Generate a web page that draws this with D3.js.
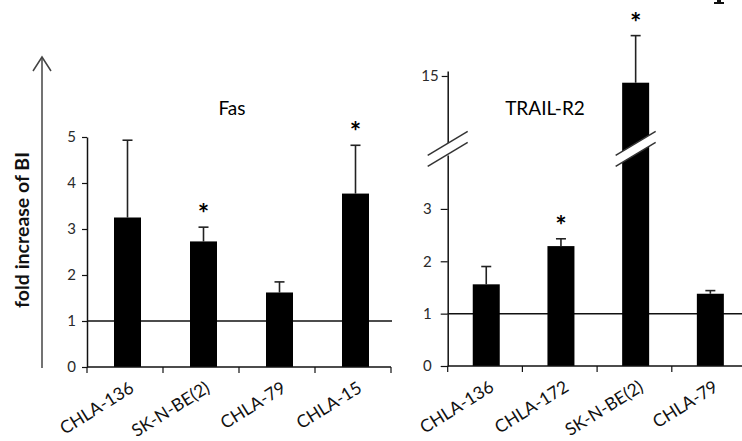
<!DOCTYPE html>
<html>
<head>
<meta charset="utf-8">
<script src="https://cdn.jsdelivr.net/npm/d3@7"></script>
<style>
    body { margin: 0; background: #fff; }
    svg { display: block; font-family: Lato, "Open Sans", sans-serif; }
</style>
</head>
<body>
<svg id="chart" width="742" height="441"></svg>
<script>
"use strict";
//  Data  ---
var fasCategories = ["CHLA-136", "SK-N-BE(2)", "CHLA-79", "CHLA-15"];
var fasMeans = [3.25, 2.73, 1.62, 3.77];
var fasErrors = [1.68, 0.31, 0.23, 1.05];
var fasSignificant = [false, true, false, true];
var fasTicks = [0, 1, 2, 3, 4, 5];

var trailCategories = ["CHLA-136", "CHLA-172", "SK-N-BE(2)", "CHLA-79"];
var trailMeans = [1.56, 2.29, 14.5, 1.38];
var trailErrors = [0.34, 0.14, 3.5, 0.06];
var trailSignificant = [false, true, true, false];
var trailLowTicks = [0, 1, 2, 3];
var trailHighTicks = [15];

var baselineValue = 1;
var yLabel = "fold increase of BI";

var svg = d3.select("#chart");
var barWidth = 27;
var capHalf = 5;

function rows(cats, means, errs, sig) {
    return cats.map(function (c, i) {
        return { cat: c, mean: means[i], err: errs[i], sig: sig[i] };
    });
}

function styleAxis(g) {
    g.select(".domain").attr("stroke", "#111").attr("stroke-width", 1.5);
    g.selectAll(".tick line").attr("stroke", "#111").attr("stroke-width", 1.2);
    g.selectAll(".tick text")
        .attr("fill", "#2a2a2a")
        .style("font-size", "15px")
        .style("font-family", "Lato, sans-serif")
    ;
}

function drawBottom(g, x, y0, labelDx) {
    var r = x.range();
    g.append("line")
        .attr("x1", r[0]).attr("x2", Math.min(r[1], 742))
        .attr("y1", y0).attr("y2", y0)
        .attr("stroke", "#111").attr("stroke-width", 1.5)
    ;
    var edges = x.domain().map(function (d) { return x(d); }).concat([r[1]]);
    g.selectAll(".xtick").data(edges).enter().append("line")
        .attr("class", "xtick")
        .attr("x1", function (d) { return d; }).attr("x2", function (d) { return d; })
        .attr("y1", y0).attr("y2", y0 + 6)
        .attr("stroke", "#111").attr("stroke-width", 1.2)
    ;
    g.selectAll(".xlabel").data(x.domain()).enter().append("text")
        .attr("class", "xlabel")
        .attr("text-anchor", "end")
        .attr("transform", function (d) {
            return "translate(" + (x(d) + x.bandwidth() / 2 + labelDx) + "," + (y0 + 24) + ") rotate(-32)";
        })
        .attr("fill", "#111")
        .style("font-size", "17.5px")
        .text(function (d) { return d; })
    ;
}

function drawBars(g, data, x, yOf, y0, dx) {
    function cx(d) { return x(d.cat) + x.bandwidth() / 2 + dx; }
    var sel = g.selectAll(".bar").data(data).enter().append("g").attr("class", "bar");
    sel.append("line")
        .attr("x1", cx).attr("x2", cx)
        .attr("y1", function (d) { return yOf(d.mean); })
        .attr("y2", function (d) { return yOf(d.mean + d.err); })
        .attr("stroke", "#222").attr("stroke-width", 1.6)
    ;
    sel.append("line")
        .attr("x1", function (d) { return cx(d) - capHalf; })
        .attr("x2", function (d) { return cx(d) + capHalf; })
        .attr("y1", function (d) { return yOf(d.mean + d.err); })
        .attr("y2", function (d) { return yOf(d.mean + d.err); })
        .attr("stroke", "#222").attr("stroke-width", 1.6)
    ;
    sel.append("rect")
        .attr("x", function (d) { return cx(d) - barWidth / 2; })
        .attr("width", barWidth)
        .attr("y", function (d) { return yOf(d.mean); })
        .attr("height", function (d) { return y0 - yOf(d.mean); })
        .attr("fill", "#000")
    ;
    sel.filter(function (d) { return d.sig; }).append("text")
        .attr("x", cx)
        .attr("y", function (d) { return yOf(d.mean + d.err) - 4; })
        .attr("text-anchor", "middle")
        .style("font-size", "27px")
        .style("font-weight", "bold")
        .attr("fill", "#000")
        .text("*")
    ;
}

//  Y label and arrow  ---
svg.append("line")
    .attr("x1", 42).attr("x2", 42).attr("y1", 368).attr("y2", 57)
    .attr("stroke", "#444").attr("stroke-width", 1.5)
;
svg.append("path")
    .attr("d", "M33,71L42,57L51,71")
    .attr("fill", "none").attr("stroke", "#444").attr("stroke-width", 1.5)
;
svg.append("text")
    .attr("transform", "translate(29,230)rotate(-90)")
    .attr("text-anchor", "middle")
    .style("font-size", "19.5px").style("font-weight", "bold")
    .attr("fill", "#111")
    .text(yLabel)
;

//  Fas panel  ---
var fasG = svg.append("g");
var xFas = d3.scaleBand().domain(fasCategories).range([87, 391]);
var yFas = d3.scaleLinear().domain([0, 5]).range([367, 137]);

fasG.append("line")
    .attr("x1", 87).attr("x2", 392)
    .attr("y1", yFas(baselineValue)).attr("y2", yFas(baselineValue))
    .attr("stroke", "#111").attr("stroke-width", 1.5)
;
drawBars(fasG, rows(fasCategories, fasMeans, fasErrors, fasSignificant), xFas, yFas, yFas(0), 2.5);
fasG.append("g")
    .attr("transform", "translate(87,0)")
    .call(d3.axisLeft(yFas).tickValues(fasTicks).tickSize(5).tickSizeOuter(0).tickPadding(6).tickFormat(d3.format("d")))
    .call(styleAxis)
;
drawBottom(fasG, xFas, yFas(0), 10);
fasG.append("text")
    .attr("x", 232).attr("y", 115)
    .attr("text-anchor", "middle")
    .style("font-size", "19px")
    .attr("fill", "#000")
    .text("Fas")
;

//  TRAIL-R2 panel with broken axis  ---
var trG = svg.append("g");
var xTr = d3.scaleBand().domain(trailCategories).range([447.7, 746.5]);
var yLow = d3.scaleLinear().domain([0, 4.03]).range([366, 155]);
var yHigh = d3.scaleLinear().domain([9.9, 15.37]).range([144.6, 71]);
function yTrail(v) { return v <= 4.03 ? yLow(v) : yHigh(v); }
var breakY = (yLow.range()[1] + yHigh.range()[0]) / 2 - 1;

trG.append("line")
    .attr("x1", 447.7).attr("x2", 742)
    .attr("y1", yLow(baselineValue)).attr("y2", yLow(baselineValue))
    .attr("stroke", "#111").attr("stroke-width", 1.5)
;
var trData = rows(trailCategories, trailMeans, trailErrors, trailSignificant);
drawBars(trG, trData, xTr, yTrail, yLow(0), 1.2);
trG.append("g")
    .attr("transform", "translate(447.7,0)")
    .call(d3.axisLeft(yLow).tickValues(trailLowTicks).tickSize(7).tickSizeOuter(0).tickPadding(9).tickFormat(d3.format("d")))
    .call(styleAxis)
;
trG.append("g")
    .attr("transform", "translate(447.7,0)")
    .call(d3.axisLeft(yHigh).tickValues(trailHighTicks).tickSize(6).tickSizeOuter(0).tickPadding(3).tickFormat(d3.format("d")))
    .call(styleAxis)
;
drawBottom(trG, xTr, yLow(0), 10);

// break marks on axis and on the tall bar
var breaks = [447.7].concat(trData.filter(function (d) { return d.mean > 4.03; }).map(function (d) {
    return xTr(d.cat) + xTr.bandwidth() / 2 + 1.2;
}));
breaks.forEach(function (bx) {
    var hw = 20, rise = 12, gap = 5.5;
    trG.append("path")
        .attr("d", "M" + (bx - hw) + "," + (breakY + rise - gap) + "L" + (bx + hw) + "," + (breakY - rise - gap) +
            "L" + (bx + hw) + "," + (breakY - rise + gap) + "L" + (bx - hw) + "," + (breakY + rise + gap) + "Z")
        .attr("fill", "#fff")
    ;
    [-gap, gap].forEach(function (o) {
        trG.append("line")
            .attr("x1", bx - hw).attr("y1", breakY + rise + o)
            .attr("x2", bx + hw).attr("y2", breakY - rise + o)
            .attr("stroke", "#333").attr("stroke-width", 1.5)
        ;
    });
});
trG.append("text")
    .attr("x", 545).attr("y", 115)
    .attr("text-anchor", "middle")
    .style("font-size", "19px")
    .attr("fill", "#000")
    .text("TRAIL-R2")
;

// foot of a cropped glyph at the top right edge
svg.append("path")
    .attr("d", "M717,0H721V2H724V4H714V2H717Z")
    .attr("fill", "#111")
;
</script>
</body>
</html>
